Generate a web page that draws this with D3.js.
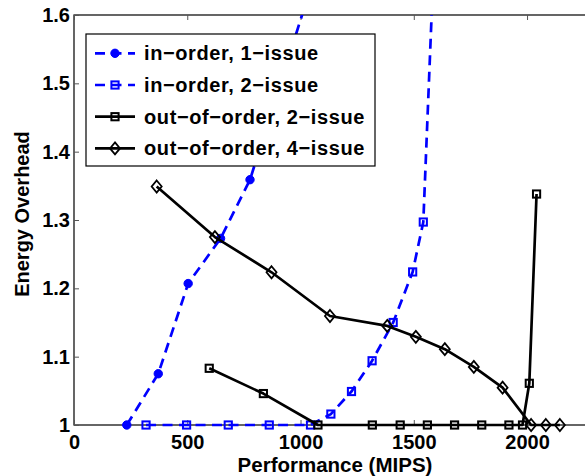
<!DOCTYPE html>
<html>
<head>
<meta charset="utf-8">
<script src="https://cdn.jsdelivr.net/npm/d3@7"></script>
<style>
  html, body { margin: 0; padding: 0; background: #fff; }
  svg { display: block; }
  text { font-family: "Liberation Sans", Arial, Helvetica, sans-serif; font-weight: bold; fill: #000; }
</style>
</head>
<body>
<svg id="chart" width="585" height="476"></svg>
<script>
// Performance (MIPS) vs. energy overhead for four core configurations
const inOrder1Issue = [
  [233, 1.000], [372, 1.075], [504, 1.207], [647, 1.273], [777, 1.359], [1150, 1.75]
];
const inOrder2Issue = [
  [318, 1.000], [497, 1.000], [681, 1.000], [862, 1.000], [1044, 1.000],
  [1134, 1.016], [1225, 1.049], [1316, 1.094], [1409, 1.150], [1495, 1.224],
  [1542, 1.297], [1597, 1.75]
];
const outOfOrder2Issue = [
  [597, 1.083], [836, 1.046], [1077, 1.000], [1317, 1.000], [1440, 1.000],
  [1560, 1.000], [1680, 1.000], [1800, 1.000], [1920, 1.000], [1980, 1.000],
  [2010, 1.061], [2042, 1.338]
];
const outOfOrder4Issue = [
  [365, 1.349], [622, 1.275], [872, 1.2235], [1130, 1.1595], [1383, 1.145],
  [1509, 1.129], [1637, 1.111], [1765, 1.085], [1892, 1.0546],
  [2018, 1.000], [2083, 1.000], [2145, 1.000]
];

const seriesNames = ["in\u2212order, 1\u2212issue", "in\u2212order, 2\u2212issue",
                     "out\u2212of\u2212order, 2\u2212issue", "out\u2212of\u2212order, 4\u2212issue"];
const xTicks = [0, 500, 1000, 1500, 2000];
const yTicks = [1, 1.1, 1.2, 1.3, 1.4, 1.5, 1.6];
const xDomain = [0, 2300];
const yDomain = [1, 1.6];

const series = [
  { name: seriesNames[0], data: inOrder1Issue,    color: "#0000ff", dash: "10,6.5", marker: "circle" },
  { name: seriesNames[1], data: inOrder2Issue,    color: "#0000ff", dash: "10,6.5", marker: "square" },
  { name: seriesNames[2], data: outOfOrder2Issue, color: "#000000", dash: null,     marker: "square" },
  { name: seriesNames[3], data: outOfOrder4Issue, color: "#000000", dash: null,     marker: "diamond" }
];

const svg = d3.select("#chart");
const L = 74, T = 15, R = 595, B = 425;

const x = d3.scaleLinear().domain(xDomain).range([L, R]);
const y = d3.scaleLinear().domain(yDomain).range([B, T]);

// Plot frame
svg.append("rect")
  .attr("x", L).attr("y", T).attr("width", R - L).attr("height", B - T)
  .attr("fill", "none").attr("stroke", "#000").attr("stroke-width", 1.2);

// Axes with inward ticks
const xAxis = svg.append("g").attr("transform", `translate(0,${B})`)
  .call(d3.axisBottom(x).tickValues(xTicks).tickSizeInner(-5).tickSizeOuter(0).tickPadding(9.5)
        .tickFormat(d3.format("d")));
const xAxisTop = svg.append("g").attr("transform", `translate(0,${T})`)
  .call(d3.axisTop(x).tickValues(xTicks).tickSizeInner(-5).tickSizeOuter(0).tickFormat(""));
const yAxis = svg.append("g").attr("transform", `translate(${L},0)`)
  .call(d3.axisLeft(y).tickValues(yTicks).tickSizeInner(-5).tickSizeOuter(0).tickPadding(4)
        .tickFormat(d => d === 1 ? "1" : d3.format(".1f")(d)));

[xAxis, xAxisTop, yAxis].forEach(g => {
  g.select(".domain").remove();
  g.selectAll(".tick line").attr("stroke", "#555").attr("stroke-width", 1);
  g.selectAll("text").style("font-size", "20px").style("font-family", null).attr("fill", "#000");
});

// Clip data lines to the plot region (markers on the baseline may extend below)
svg.append("clipPath").attr("id", "plotClip")
  .append("rect").attr("x", L).attr("y", T).attr("width", R - L).attr("height", B - T + 12);

const line = d3.line().x(d => x(d[0])).y(d => y(d[1]));

function drawMarker(g, type, color, cx, cy) {
  if (type === "circle") {
    g.append("circle").attr("cx", cx).attr("cy", cy).attr("r", 4.2)
      .attr("fill", color).attr("stroke", color).attr("stroke-width", 1);
  } else if (type === "square") {
    const s = 7.2;
    g.append("rect").attr("x", cx - s / 2).attr("y", cy - s / 2).attr("width", s).attr("height", s)
      .attr("fill", "none").attr("stroke", color).attr("stroke-width", 2);
  } else if (type === "diamond") {
    g.append("path")
      .attr("d", `M${cx},${cy - 6}L${cx + 5},${cy}L${cx},${cy + 6}L${cx - 5},${cy}Z`)
      .attr("fill", "none").attr("stroke", color).attr("stroke-width", 1.8);
  }
}

const plot = svg.append("g").attr("clip-path", "url(#plotClip)");
series.forEach(s => {
  const g = plot.append("g");
  g.append("path").datum(s.data).attr("d", line)
    .attr("fill", "none").attr("stroke", s.color).attr("stroke-width", 2.7)
    .attr("stroke-dasharray", s.dash).attr("stroke-linejoin", "round");
  s.data.filter(d => d[1] <= yDomain[1]).forEach(d => drawMarker(g, s.marker, s.color, x(d[0]), y(d[1])));
});

// Axis titles
svg.append("text").attr("x", 335).attr("y", 472).attr("text-anchor", "middle")
  .style("font-size", "20.5px").text("Performance (MIPS)");
svg.append("text").attr("transform", "translate(29,214) rotate(-90)").attr("text-anchor", "middle")
  .style("font-size", "20px").text("Energy Overhead");

// Legend
const lg = svg.append("g");
lg.append("rect").attr("x", 86).attr("y", 34).attr("width", 289).attr("height", 132)
  .attr("fill", "#fff").attr("stroke", "#000").attr("stroke-width", 1.2);
series.forEach((s, i) => {
  const cy = 53.3 + i * 31.7;
  lg.append("line").attr("x1", 95).attr("x2", 135).attr("y1", cy).attr("y2", cy)
    .attr("stroke", s.color).attr("stroke-width", 2.7).attr("stroke-dasharray", s.dash);
  drawMarker(lg, s.marker, s.color, 115, cy);
  lg.append("text").attr("x", 144).attr("y", cy + 7).style("font-size", "20px")
    .style("letter-spacing", "0.6px").text(s.name);
});
</script>
</body>
</html>
